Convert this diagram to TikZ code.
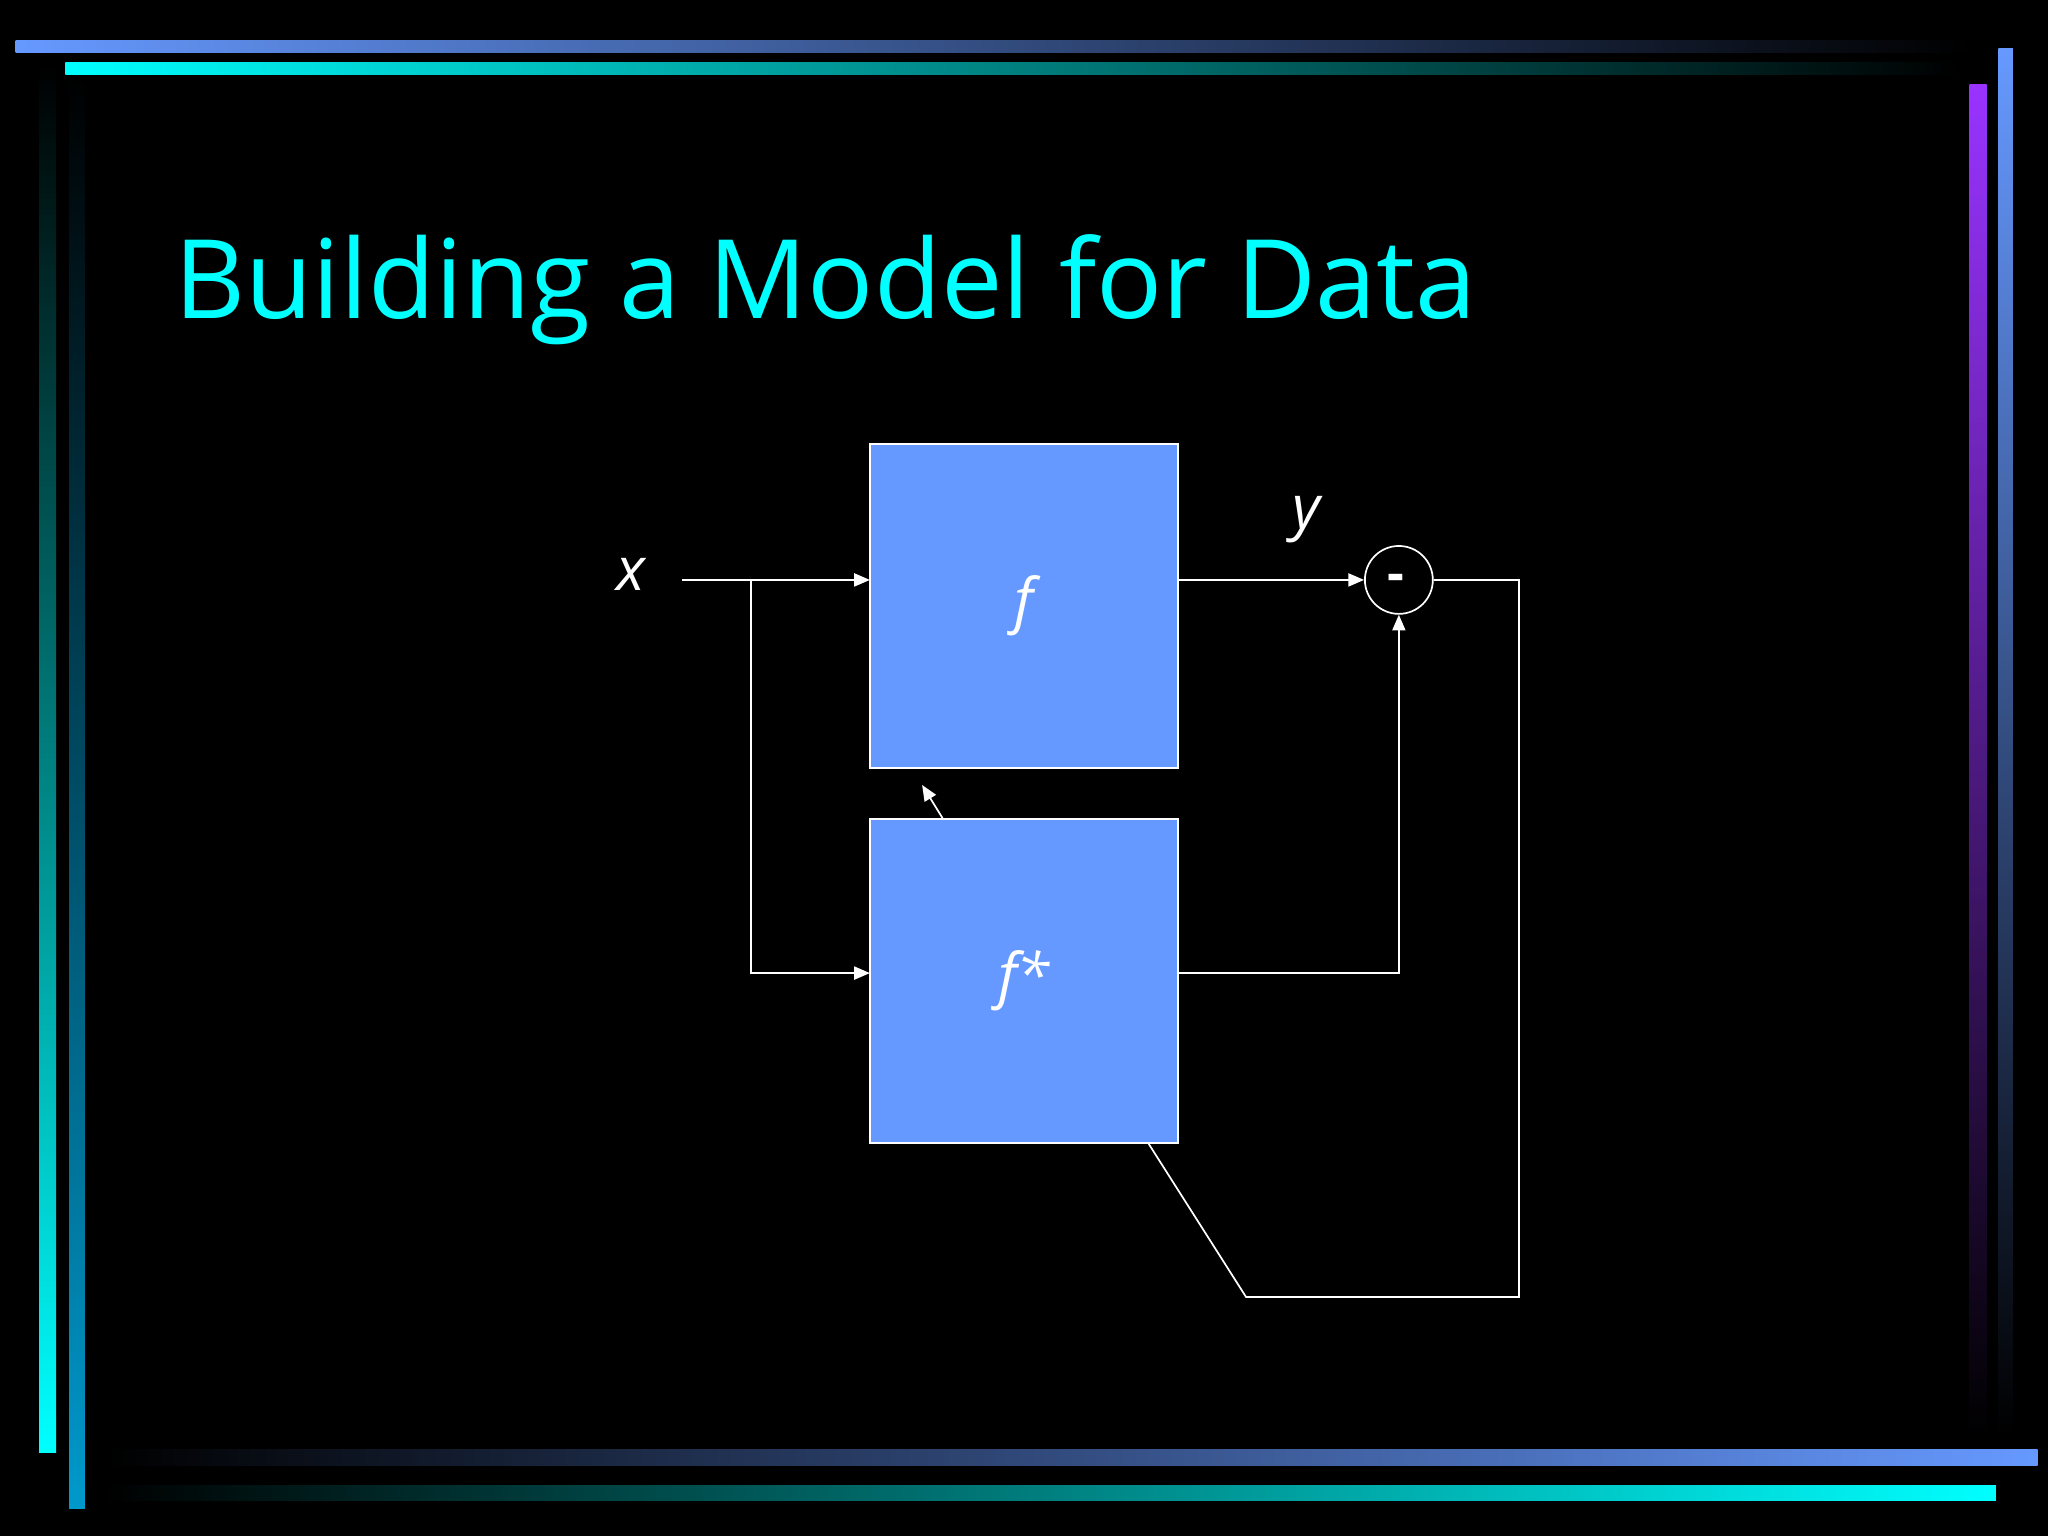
\documentclass[tikz,border=0pt]{standalone}
\usepackage{fontspec}
\setmainfont{Open Sans}
\usetikzlibrary{arrows.meta}
\begin{document}
\begin{tikzpicture}[x=1pt,y=-1pt,
  blk/.style={draw=white,line width=1.5pt,fill={rgb,255:red,102;green,153;blue,255}},
  wire/.style={draw=white,line width=1.3pt},
  arr/.style={wire,-{Triangle[length=12pt,width=10pt]}},
  lbl/.style={text=white,font=\itshape\fontsize{46}{50}\selectfont}]
\definecolor{lb}{RGB}{102,153,255}
\definecolor{cy}{RGB}{0,255,255}
\definecolor{pu}{RGB}{153,51,255}
\definecolor{tb}{RGB}{0,153,204}
\fill[black] (0,0) rectangle (1568,1176);
\useasboundingbox (0,0) rectangle (1568,1176);
% frame bars
\shade[left color=lb,right color=black] (12,31) rectangle (1510,40);
\shade[left color=cy,right color=black] (50,48) rectangle (1500,57);
\shade[top color=lb,bottom color=black] (1530,37) rectangle (1541,1100);
\shade[top color=pu,bottom color=black] (1508,65) rectangle (1521,1100);
\shade[top color=black,bottom color=cy] (30,50) rectangle (43,1112);
\shade[top color=black,bottom color=tb] (53,60) rectangle (65,1155);
\shade[left color=black,right color=lb] (80,1110) rectangle (1560,1122);
\shade[left color=black,right color=cy] (80,1137) rectangle (1528,1149);
% title
\node[anchor=west,text=cy,font=\fontsize{84}{90}\selectfont] (title) at (130,222) {Building a Model for Data};
% blocks
\node[blk,minimum width=236pt,minimum height=248pt,inner sep=0pt] (f) at (784,464) {};
\node[lbl] at (f.center) {f};
\node[blk,minimum width=236pt,minimum height=248pt,inner sep=0pt] (fs) at (784,751) {};
\node[lbl] at (fs.center) {f*};
\node[draw=white,line width=1.3pt,circle,minimum size=52pt,inner sep=0pt] (s) at (1071,444) {};
\node[text=white,font=\bfseries\fontsize{40}{40}\selectfont] at (1069,446) {-};
\node[lbl] (xl) at (483,440) {x};
\node[lbl] (yl) at (1000,398) {y};
\coordinate (xin) at (522,444);
\coordinate (br) at (575,444);
\coordinate (br2) at (575,745);
\coordinate (fin) at (666,444);
\coordinate (fsin) at (666,745);
\coordinate (fout) at (902,444);
\coordinate (fsout) at (902,745);
\coordinate (c1) at (1071,745);
\coordinate (e1) at (1163,444);
\coordinate (e2) at (1163,993);
\coordinate (e3) at (954,993);
\coordinate (e4) at (879,875);
\coordinate (a1) at (722,627);
\coordinate (a2) at (706,601);
\draw[arr] (xin) -- (fin);
\draw[arr] (br) -- (br2) -- (fsin);
\draw[arr] (fout) -- (s.west);
\draw[arr] (fsout) -- (c1) -- (s.south);
\draw[wire] (s.east) -- (e1) -- (e2) -- (e3) -- (e4);
\draw[arr] (a1) -- (a2);
\end{tikzpicture}
\end{document}
